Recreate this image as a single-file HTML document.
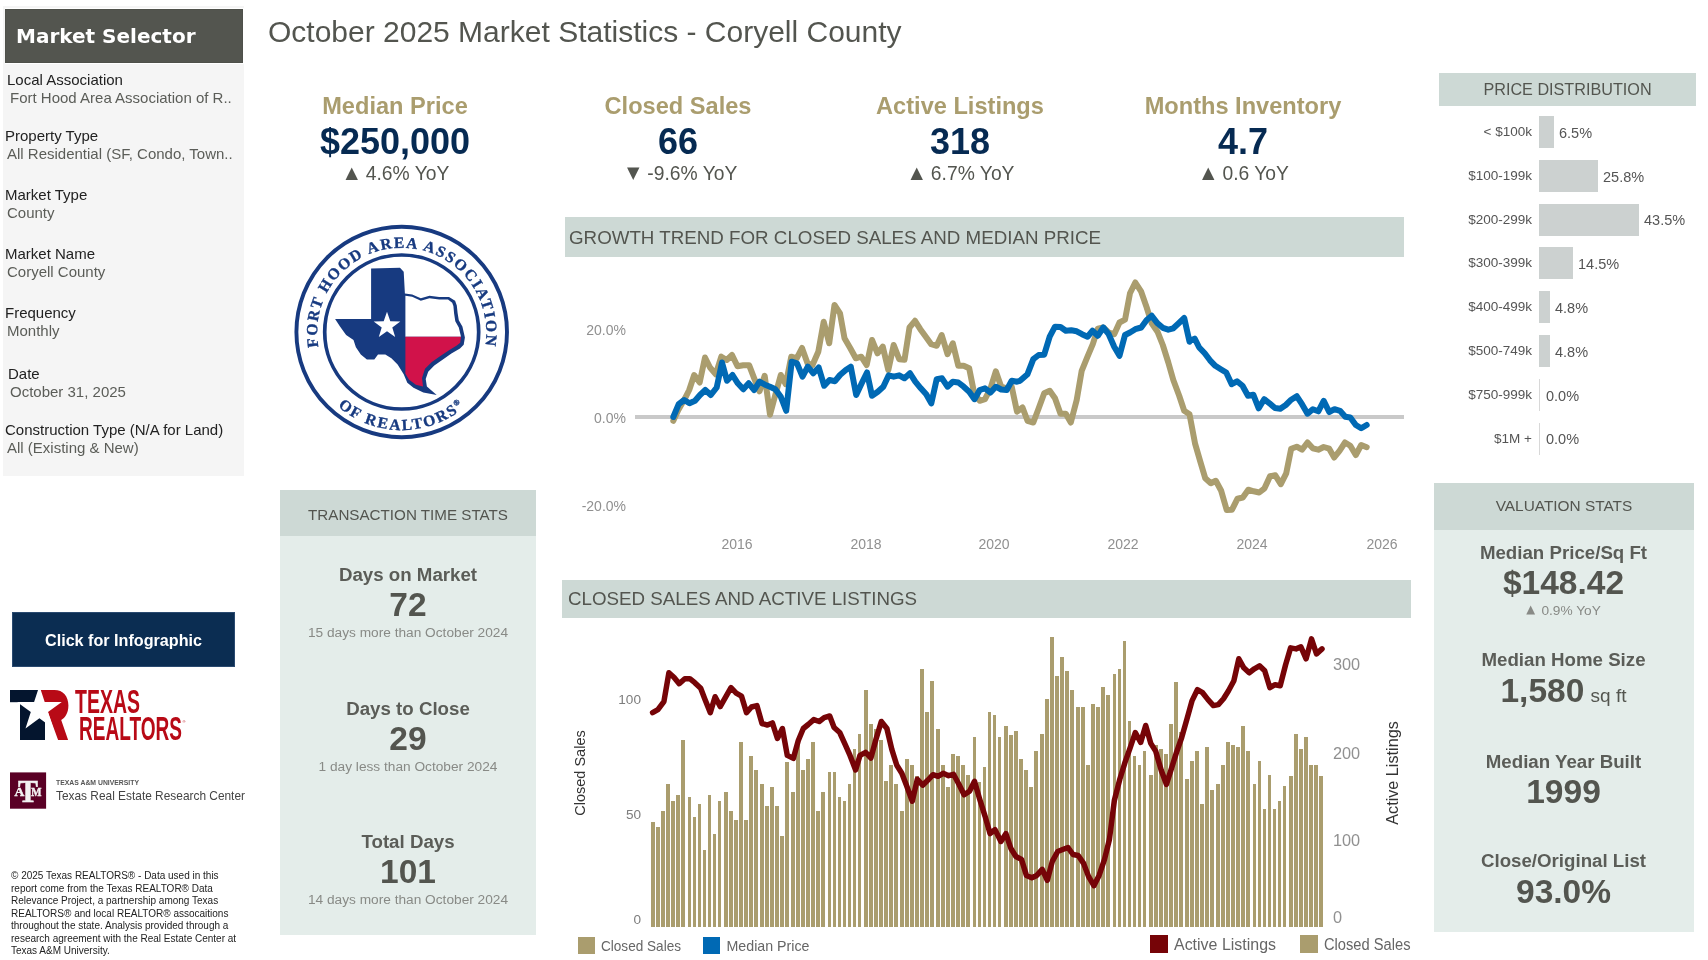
<!DOCTYPE html><html lang="en"><head><meta charset="utf-8"><title>October 2025 Market Statistics - Coryell County</title><style>
*{margin:0;padding:0;box-sizing:border-box}
html,body{width:1708px;height:960px;background:#fff;overflow:hidden}
body{will-change:transform;position:relative;font-family:"Liberation Sans",Arial,sans-serif;color:#53554f}
.a{position:absolute;white-space:nowrap}
.c{position:absolute;white-space:nowrap;text-align:center}
.lab{font-size:15px;color:#222;}
.val{font-size:15px;color:#5b5d58;}
.kt{font-weight:bold;color:#aa9d6e;font-size:23.6px}
.kv{font-weight:bold;color:#062a52;font-size:36px}
.ky{font-size:19.3px;color:#53554f}
.tri{font-family:'DejaVu Sans',sans-serif;font-size:0.84em;position:relative;top:-1.6px;margin-right:2.5px}
.hd{position:absolute;background:#cdd9d5}
.st{font-weight:bold;font-size:18.7px;color:#5b5d58}
.sv{font-weight:bold;font-size:33.5px;color:#53554f}
.ss{font-size:13.7px;color:#888a86}
.pl{position:absolute;font-size:13.5px;color:#555;text-align:right;width:90px}
.pv{position:absolute;font-size:14.5px;color:#555}
.pb{position:absolute;background:#ccd1d0;height:32px}
.ax{font-size:14px;fill:#909090;font-family:"Liberation Sans",Arial,sans-serif}
</style></head><body>
<div class="a" style="left:3px;top:6px;width:241.4px;height:470px;background:#f5f5f5"></div>
<div class="a" style="left:4.8px;top:7.6px;width:239.6px;height:56.7px;background:#fff"></div>
<div class="a" style="left:5px;top:9px;width:238px;height:54px;background:#53554f;border:1px solid #4e504a"></div>
<div class="a" style="left:16px;top:23px;font-family:'DejaVu Sans',sans-serif;font-weight:bold;font-size:20px;color:#fff;line-height:26px">Market Selector</div>
<div class="a lab" style="left:7px;top:71px;line-height:17px">Local Association</div>
<div class="a val" style="left:10px;top:88.5px;line-height:17px">Fort Hood Area Association of R..</div>
<div class="a lab" style="left:5px;top:127px;line-height:17px">Property Type</div>
<div class="a val" style="left:7px;top:144.5px;line-height:17px">All Residential (SF, Condo, Town..</div>
<div class="a lab" style="left:5px;top:186px;line-height:17px">Market Type</div>
<div class="a val" style="left:7px;top:203.5px;line-height:17px">County</div>
<div class="a lab" style="left:5px;top:245px;line-height:17px">Market Name</div>
<div class="a val" style="left:7px;top:262.5px;line-height:17px">Coryell County</div>
<div class="a lab" style="left:5px;top:304px;line-height:17px">Frequency</div>
<div class="a val" style="left:7px;top:321.5px;line-height:17px">Monthly</div>
<div class="a lab" style="left:8px;top:365px;line-height:17px">Date</div>
<div class="a val" style="left:10px;top:382.5px;line-height:17px">October 31, 2025</div>
<div class="a lab" style="left:5px;top:421px;line-height:17px">Construction Type (N/A for Land)</div>
<div class="a val" style="left:7px;top:438.5px;line-height:17px">All (Existing &amp; New)</div>
<div class="a" style="left:268px;top:13px;font-size:30px;line-height:38px;color:#53554f">October 2025 Market Statistics - Coryell County</div>
<div class="c kt" style="left:245px;width:300px;top:92px;line-height:28px">Median Price</div>
<div class="c kv" style="left:245px;width:300px;top:121px;line-height:42px">$250,000</div>
<div class="c ky" style="left:247.4px;width:300px;top:162.8px;line-height:22px"><span class=tri>&#9650;</span> 4.6% YoY</div>
<div class="c kt" style="left:528px;width:300px;top:92px;line-height:28px">Closed Sales</div>
<div class="c kv" style="left:528px;width:300px;top:121px;line-height:42px">66</div>
<div class="c ky" style="left:532.25px;width:300px;top:162.8px;line-height:22px"><span class=tri>&#9660;</span> -9.6% YoY</div>
<div class="c kt" style="left:810px;width:300px;top:92px;line-height:28px">Active Listings</div>
<div class="c kv" style="left:810px;width:300px;top:121px;line-height:42px">318</div>
<div class="c ky" style="left:812.5px;width:300px;top:162.8px;line-height:22px"><span class=tri>&#9650;</span> 6.7% YoY</div>
<div class="c kt" style="left:1093px;width:300px;top:92px;line-height:28px">Months Inventory</div>
<div class="c kv" style="left:1093px;width:300px;top:121px;line-height:42px">4.7</div>
<div class="c ky" style="left:1095.5px;width:300px;top:162.8px;line-height:22px"><span class=tri>&#9650;</span> 0.6 YoY</div>
<svg class="a" style="left:0;top:0" width="1708" height="960" viewBox="0 0 1708 960">
<circle cx="401.7" cy="332" r="105.3" fill="none" stroke="#173a80" stroke-width="3.9"/>
<circle cx="401.7" cy="332" r="77" fill="none" stroke="#173a80" stroke-width="3.7"/>
<polygon points="371.1,268.4 400.0,267.7 403.7,271.8 404.9,293.4 412.2,294.6 420.8,298.3 429.4,295.8 439.2,297.0 449.0,297.0 455.1,300.7 456.8,305.6 457.6,313.0 458.8,320.3 462.4,326.4 464.9,337.4 463.7,344.8 460.0,348.5 451.4,353.4 442.9,359.5 434.3,365.6 428.2,371.7 425.7,379.1 426.9,386.4 436.7,395.0 423.3,392.6 413.5,387.7 407.3,382.8 403.7,374.2 397.6,364.4 391.4,358.3 385.3,354.6 378.0,354.6 374.3,359.5 366.9,359.5 360.8,354.6 355.9,347.2 353.5,339.9 346.1,335.0 340.0,326.4 335.1,319.1 371.1,319.1" fill="#173a80"/>
<polygon points="405.4,295.8 412.2,296.8 420.8,300.7 429.4,298.3 439.2,299.5 448.0,299.5 452.2,302.7 453.4,306.1 454.1,313.4 455.3,321.3 458.8,327.4 461.0,336.7 405.4,336.7" fill="#fff"/>
<polygon points="405.4,336.7 461.0,336.7 460.2,342.8 456.8,345.5 449.0,350.2 440.4,356.1 431.8,361.9 425.0,368.8 422.0,377.9 423.0,386.4 415.9,384.7 409.1,379.8 405.4,373.7" fill="#d1124a"/>
<polygon points="387.0,311.7 390.3,321.2 400.3,321.4 392.3,327.4 395.2,337.0 387.0,331.3 378.8,337.0 381.7,327.4 373.7,321.4 383.7,321.2" fill="#fff"/>
<defs><path id="arcT" d="M 319.0 349.6 A 84.5 84.5 0 1 1 484.4 349.6"/>
<path id="arcB" d="M 309.6 365.5 A 98 98 0 0 0 493.8 365.5"/></defs>
<text font-family="Liberation Serif,serif" font-weight="bold" font-size="15.6" fill="#173a80" letter-spacing="1.65" stroke="#173a80" stroke-width="0.35"><textPath href="#arcT" startOffset="50%" text-anchor="middle">FORT HOOD AREA ASSOCIATION</textPath></text>
<text font-family="Liberation Serif,serif" font-weight="bold" font-size="15.6" fill="#173a80" letter-spacing="2.0" stroke="#173a80" stroke-width="0.35"><textPath href="#arcB" startOffset="50%" text-anchor="middle">OF REALTORS<tspan font-size="8" dy="-6">&#174;</tspan></textPath></text>
<rect x="565" y="217" width="839" height="40" fill="#cdd9d5"/>
<rect x="635" y="415" width="769" height="4" fill="#c9c9c9"/>
<polyline points="673.3,420.8 678.3,410.0 685.0,398.3 689.2,390.0 694.2,375.0 699.7,382.5 705.0,357.5 710.0,367.5 715.8,374.2 721.3,356.7 726.7,360.0 732.0,355.0 737.5,366.3 743.3,365.3 749.2,365.3 754.2,378.3 759.5,391.3 764.7,375.8 770.0,414.7 775.3,395.0 780.8,375.0 785.8,384.2 791.3,356.7 796.7,358.3 802.0,348.0 807.5,363.3 812.5,365.0 818.3,351.7 823.7,321.7 829.2,343.3 834.5,305.0 840.0,313.3 844.5,338.3 850.3,348.3 855.8,358.3 861.2,356.7 866.7,365.0 872.0,340.0 877.5,353.3 882.8,346.7 888.3,370.0 893.7,345.0 899.2,359.2 904.5,359.7 909.5,327.5 915.0,320.8 920.3,329.2 925.8,336.7 931.2,344.2 936.7,345.8 941.7,335.0 947.5,354.2 952.8,343.3 958.3,365.8 963.7,365.8 969.2,368.3 974.2,393.3 979.7,400.8 985.0,399.2 990.5,388.3 995.8,371.3 1001.2,386.7 1006.7,388.3 1011.7,386.7 1017.0,411.7 1022.5,407.5 1027.5,420.8 1033.3,422.5 1038.7,408.3 1044.2,393.3 1049.7,390.8 1055.0,398.3 1060.5,413.7 1065.8,413.7 1070.8,422.5 1076.7,400.0 1081.7,370.8 1087.5,356.7 1092.8,344.2 1097.8,328.7 1103.3,327.5 1108.7,332.5 1114.2,334.2 1119.5,322.5 1125.0,319.7 1130.0,293.3 1135.3,282.5 1141.2,291.7 1146.7,307.5 1151.7,323.3 1157.5,331.7 1162.8,345.0 1168.3,362.5 1173.3,380.0 1179.2,395.8 1184.2,410.8 1189.5,414.2 1195.0,443.3 1200.3,461.7 1205.3,478.3 1210.8,483.3 1215.8,480.8 1221.2,490.8 1226.7,510.0 1232.0,509.7 1237.5,498.7 1242.8,497.5 1248.3,489.7 1253.7,491.3 1259.2,492.5 1264.5,488.3 1270.0,476.3 1275.3,475.3 1280.8,484.2 1286.2,473.3 1291.2,448.7 1296.7,446.7 1302.0,449.7 1307.5,442.5 1312.8,448.3 1318.3,449.7 1323.7,447.0 1329.2,448.7 1334.2,457.5 1339.5,450.8 1345.0,442.5 1350.3,445.8 1355.8,455.0 1361.2,445.0 1366.7,447.2" fill="none" stroke="#aa9d6e" stroke-width="6" stroke-linejoin="round" stroke-linecap="round"/>
<polyline points="673.3,417.0 678.7,404.2 684.2,400.0 689.5,403.3 695.0,400.8 700.0,395.0 705.3,390.0 710.8,395.0 716.7,387.5 722.0,362.5 727.0,380.8 732.5,375.0 737.8,383.3 743.3,389.2 748.7,383.3 754.2,390.0 759.5,381.7 765.0,384.7 770.0,386.7 775.3,389.2 780.8,396.7 786.2,410.8 791.7,361.7 797.0,363.3 802.5,376.7 807.8,366.7 813.3,373.3 818.7,367.5 824.2,385.8 829.5,380.0 835.0,381.2 840.0,375.0 845.8,370.0 850.8,366.7 856.2,395.0 861.7,383.3 867.0,372.5 872.0,395.8 877.8,391.7 883.3,386.7 888.7,375.3 893.7,376.7 899.2,375.3 904.5,378.3 910.0,373.3 915.3,381.7 920.8,388.3 926.2,394.2 931.3,403.3 936.7,379.2 942.0,378.3 947.5,386.7 952.8,381.7 958.3,382.5 963.7,386.7 969.2,391.7 974.5,399.2 979.7,390.0 985.0,388.3 990.5,392.5 995.8,386.7 1001.2,389.5 1006.7,390.0 1011.7,380.8 1017.0,381.7 1020.0,380.8 1027.5,374.2 1033.3,359.2 1038.7,355.0 1044.2,354.7 1049.7,336.7 1055.0,326.7 1060.5,327.0 1065.8,330.8 1071.2,330.3 1076.7,331.3 1082.0,334.2 1087.5,336.7 1092.5,330.8 1097.8,335.8 1103.3,327.5 1108.7,334.2 1114.2,346.7 1119.5,355.8 1125.0,335.0 1130.0,332.5 1135.3,329.2 1141.2,327.5 1146.7,320.0 1151.7,315.8 1157.5,323.3 1162.8,327.8 1168.3,329.7 1173.3,328.3 1178.7,323.3 1184.2,318.0 1189.5,341.7 1190.0,340.8 1194.7,338.7 1199.2,347.5 1204.7,353.3 1210.0,360.3 1215.3,365.8 1220.8,369.2 1226.2,372.5 1231.7,384.2 1237.0,381.3 1242.5,385.8 1248.0,395.8 1253.3,394.7 1258.7,408.3 1264.2,399.2 1269.5,403.3 1275.0,408.0 1280.3,408.7 1285.8,405.0 1291.2,399.7 1296.7,396.2 1302.0,404.2 1307.5,413.7 1312.8,409.2 1318.3,411.3 1323.7,400.8 1329.2,412.0 1334.5,409.2 1340.0,410.8 1345.3,416.7 1350.3,417.5 1355.8,425.0 1361.2,428.3 1366.7,425.0" fill="none" stroke="#0069b4" stroke-width="6" stroke-linejoin="round" stroke-linecap="round"/>
<text class="ax" x="626" y="335" text-anchor="end">20.0%</text>
<text class="ax" x="626" y="423" text-anchor="end">0.0%</text>
<text class="ax" x="626" y="511" text-anchor="end">-20.0%</text>
<text class="ax" x="737" y="549" text-anchor="middle">2016</text>
<text class="ax" x="866" y="549" text-anchor="middle">2018</text>
<text class="ax" x="994" y="549" text-anchor="middle">2020</text>
<text class="ax" x="1123" y="549" text-anchor="middle">2022</text>
<text class="ax" x="1252" y="549" text-anchor="middle">2024</text>
<text class="ax" x="1382" y="549" text-anchor="middle">2026</text>
<rect x="562" y="580" width="849" height="38" fill="#cdd9d5"/>
<g fill="#aa9d6e" shape-rendering="crispEdges">
<rect x="651" y="822" width="4" height="105"/>
<rect x="656" y="827" width="4" height="100"/>
<rect x="661" y="811" width="4" height="116"/>
<rect x="666" y="784" width="4" height="143"/>
<rect x="671" y="801" width="4" height="126"/>
<rect x="676" y="795" width="4" height="132"/>
<rect x="681" y="740" width="4" height="187"/>
<rect x="688" y="797" width="3" height="130"/>
<rect x="693" y="817" width="3" height="110"/>
<rect x="698" y="804" width="3" height="123"/>
<rect x="703" y="850" width="3" height="77"/>
<rect x="708" y="795" width="3" height="132"/>
<rect x="713" y="834" width="3" height="93"/>
<rect x="718" y="801" width="3" height="126"/>
<rect x="724" y="792" width="4" height="135"/>
<rect x="729" y="811" width="4" height="116"/>
<rect x="734" y="820" width="4" height="107"/>
<rect x="739" y="742" width="4" height="185"/>
<rect x="744" y="820" width="4" height="107"/>
<rect x="749" y="756" width="4" height="171"/>
<rect x="754" y="770" width="4" height="157"/>
<rect x="760" y="784" width="4" height="143"/>
<rect x="765" y="806" width="4" height="121"/>
<rect x="770" y="787" width="4" height="140"/>
<rect x="775" y="806" width="4" height="121"/>
<rect x="780" y="836" width="4" height="91"/>
<rect x="785" y="762" width="4" height="165"/>
<rect x="791" y="792" width="4" height="135"/>
<rect x="796" y="739" width="4" height="188"/>
<rect x="801" y="770" width="4" height="157"/>
<rect x="806" y="759" width="4" height="168"/>
<rect x="811" y="742" width="4" height="185"/>
<rect x="816" y="811" width="4" height="116"/>
<rect x="821" y="792" width="4" height="135"/>
<rect x="828" y="772" width="3" height="155"/>
<rect x="833" y="772" width="3" height="155"/>
<rect x="838" y="797" width="3" height="130"/>
<rect x="843" y="801" width="3" height="126"/>
<rect x="848" y="784" width="3" height="143"/>
<rect x="853" y="749" width="3" height="178"/>
<rect x="858" y="734" width="3" height="193"/>
<rect x="864" y="690" width="4" height="237"/>
<rect x="869" y="724" width="4" height="203"/>
<rect x="874" y="729" width="4" height="198"/>
<rect x="879" y="740" width="4" height="187"/>
<rect x="884" y="781" width="4" height="146"/>
<rect x="889" y="765" width="4" height="162"/>
<rect x="894" y="784" width="4" height="143"/>
<rect x="900" y="811" width="4" height="116"/>
<rect x="905" y="759" width="4" height="168"/>
<rect x="910" y="765" width="4" height="162"/>
<rect x="915" y="776" width="4" height="151"/>
<rect x="920" y="669" width="4" height="258"/>
<rect x="925" y="712" width="4" height="215"/>
<rect x="930" y="681" width="4" height="246"/>
<rect x="936" y="729" width="4" height="198"/>
<rect x="941" y="765" width="4" height="162"/>
<rect x="946" y="787" width="4" height="140"/>
<rect x="951" y="754" width="4" height="173"/>
<rect x="956" y="756" width="4" height="171"/>
<rect x="961" y="765" width="4" height="162"/>
<rect x="966" y="775" width="4" height="152"/>
<rect x="973" y="737" width="3" height="190"/>
<rect x="978" y="782" width="3" height="145"/>
<rect x="983" y="767" width="3" height="160"/>
<rect x="988" y="712" width="3" height="215"/>
<rect x="993" y="715" width="3" height="212"/>
<rect x="998" y="737" width="3" height="190"/>
<rect x="1004" y="726" width="4" height="201"/>
<rect x="1009" y="735" width="4" height="192"/>
<rect x="1014" y="731" width="4" height="196"/>
<rect x="1019" y="759" width="4" height="168"/>
<rect x="1024" y="770" width="4" height="157"/>
<rect x="1029" y="787" width="4" height="140"/>
<rect x="1034" y="751" width="4" height="176"/>
<rect x="1040" y="734" width="4" height="193"/>
<rect x="1045" y="699" width="4" height="228"/>
<rect x="1050" y="637" width="4" height="290"/>
<rect x="1055" y="676" width="4" height="251"/>
<rect x="1060" y="657" width="4" height="270"/>
<rect x="1065" y="671" width="4" height="256"/>
<rect x="1070" y="690" width="4" height="237"/>
<rect x="1076" y="707" width="4" height="220"/>
<rect x="1081" y="707" width="4" height="220"/>
<rect x="1086" y="765" width="4" height="162"/>
<rect x="1091" y="704" width="4" height="223"/>
<rect x="1096" y="707" width="4" height="220"/>
<rect x="1101" y="687" width="4" height="240"/>
<rect x="1106" y="695" width="4" height="232"/>
<rect x="1113" y="674" width="3" height="253"/>
<rect x="1118" y="669" width="3" height="258"/>
<rect x="1123" y="641" width="3" height="286"/>
<rect x="1128" y="721" width="3" height="206"/>
<rect x="1133" y="756" width="3" height="171"/>
<rect x="1138" y="765" width="3" height="162"/>
<rect x="1143" y="751" width="3" height="176"/>
<rect x="1149" y="775" width="4" height="152"/>
<rect x="1154" y="745" width="4" height="182"/>
<rect x="1159" y="749" width="4" height="178"/>
<rect x="1164" y="754" width="4" height="173"/>
<rect x="1169" y="724" width="4" height="203"/>
<rect x="1174" y="682" width="4" height="245"/>
<rect x="1179" y="732" width="4" height="195"/>
<rect x="1185" y="779" width="4" height="148"/>
<rect x="1190" y="761" width="4" height="166"/>
<rect x="1195" y="751" width="4" height="176"/>
<rect x="1200" y="804" width="4" height="123"/>
<rect x="1205" y="747" width="4" height="180"/>
<rect x="1210" y="790" width="4" height="137"/>
<rect x="1216" y="784" width="4" height="143"/>
<rect x="1221" y="765" width="4" height="162"/>
<rect x="1226" y="742" width="4" height="185"/>
<rect x="1231" y="745" width="4" height="182"/>
<rect x="1236" y="747" width="4" height="180"/>
<rect x="1241" y="726" width="4" height="201"/>
<rect x="1246" y="751" width="4" height="176"/>
<rect x="1253" y="784" width="3" height="143"/>
<rect x="1258" y="761" width="3" height="166"/>
<rect x="1263" y="809" width="3" height="118"/>
<rect x="1268" y="775" width="3" height="152"/>
<rect x="1273" y="809" width="3" height="118"/>
<rect x="1278" y="801" width="3" height="126"/>
<rect x="1283" y="786" width="3" height="141"/>
<rect x="1289" y="776" width="4" height="151"/>
<rect x="1294" y="734" width="4" height="193"/>
<rect x="1299" y="749" width="4" height="178"/>
<rect x="1304" y="737" width="4" height="190"/>
<rect x="1309" y="765" width="4" height="162"/>
<rect x="1314" y="765" width="4" height="162"/>
<rect x="1319" y="776" width="4" height="151"/>
</g>
<polyline points="652.6,712.6 657.9,709.6 663.9,701.6 668.9,672.8 673.9,677.2 679.2,683.7 684.8,678.7 689.8,678.7 694.8,682.7 700.7,688.3 704.7,698.7 710.3,712.6 715.1,696.7 720.2,706.6 725.6,697.1 731.0,687.7 736.2,693.1 741.5,696.1 746.5,712.6 751.5,707.0 756.9,705.6 762.0,723.5 767.4,725.1 772.4,722.9 777.4,738.5 782.4,728.5 787.3,755.4 793.3,758.4 798.3,740.5 803.3,728.5 808.2,724.5 813.8,719.6 819.2,721.5 824.2,717.6 829.7,716.0 834.1,727.5 839.7,732.5 845.1,744.4 850.0,755.4 855.6,769.9 860.0,755.4 865.6,752.4 870.9,758.0 875.9,739.5 881.3,721.5 886.9,728.5 891.8,749.4 896.8,765.3 901.8,773.3 906.8,786.2 912.3,801.2 917.3,779.3 922.7,785.2 927.7,780.3 933.0,774.7 938.0,776.3 943.2,773.3 948.6,775.7 953.5,774.3 958.9,784.3 964.1,794.8 969.5,791.2 974.5,781.3 979.4,798.2 985.0,816.1 990.0,833.6 995.0,829.6 1000.9,841.5 1005.9,833.6 1010.9,848.5 1015.9,856.5 1021.5,859.4 1026.4,875.4 1031.8,877.8 1036.8,875.4 1042.2,869.4 1047.3,880.3 1052.3,861.4 1057.7,851.5 1062.7,849.5 1068.0,847.5 1073.0,854.5 1078.2,855.5 1083.6,863.4 1088.5,876.4 1093.9,885.7 1099.1,875.4 1104.5,859.4 1109.4,839.5 1114.4,800.2 1119.8,779.3 1125.0,762.4 1130.3,747.4 1135.3,732.5 1140.7,742.4 1145.7,725.5 1150.8,743.4 1155.8,751.4 1161.2,770.3 1166.4,784.3 1171.5,768.3 1176.5,752.4 1181.7,737.5 1187.1,718.6 1192.1,700.6 1197.4,689.7 1202.6,692.7 1208.0,699.6 1213.4,705.6 1218.3,704.6 1223.5,698.7 1228.5,690.7 1233.9,680.7 1238.8,658.8 1243.8,667.8 1249.2,672.8 1254.4,668.8 1259.5,665.8 1264.7,670.8 1269.9,687.7 1275.1,684.7 1280.2,685.7 1285.6,664.8 1290.6,647.9 1296.0,648.9 1300.9,646.9 1306.1,658.8 1311.5,638.9 1316.5,653.9 1322.0,648.9" fill="none" stroke="#760407" stroke-width="5.5" stroke-linejoin="round" stroke-linecap="round"/>
<text class="ax" x="641" y="704" text-anchor="end" style="font-size:13.6px;fill:#7d7d7d">100</text>
<text class="ax" x="641" y="819" text-anchor="end" style="font-size:13.6px;fill:#7d7d7d">50</text>
<text class="ax" x="641" y="924" text-anchor="end" style="font-size:13.6px;fill:#7d7d7d">0</text>
<text class="ax" x="1333" y="669.5" style="font-size:16.3px">300</text>
<text class="ax" x="1333" y="758.5" style="font-size:16.3px">200</text>
<text class="ax" x="1333" y="845.5" style="font-size:16.3px">100</text>
<text class="ax" x="1333" y="922.5" style="font-size:16.3px">0</text>
<text x="585" y="773" transform="rotate(-90 585 773)" text-anchor="middle" font-size="14.5" fill="#333" font-family="Liberation Sans,Arial,sans-serif">Closed Sales</text>
<text x="1398" y="773" transform="rotate(-90 1398 773)" text-anchor="middle" font-size="16.2" fill="#333" font-family="Liberation Sans,Arial,sans-serif">Active Listings</text>
<rect x="578" y="937" width="17" height="17" fill="#aa9d6e"/><text x="601" y="951" font-size="14.5" textLength="80" font-family="Liberation Sans,Arial,sans-serif" fill="#666" lengthAdjust="spacingAndGlyphs">Closed Sales</text>
<rect x="703" y="937" width="17" height="17" fill="#0069b4"/><text x="726.5" y="951" font-size="14.5" textLength="83" font-family="Liberation Sans,Arial,sans-serif" fill="#666" lengthAdjust="spacingAndGlyphs">Median Price</text>
<rect x="1150" y="935" width="18" height="18" fill="#760407"/><text x="1174" y="950" font-size="15.8" textLength="102" font-family="Liberation Sans,Arial,sans-serif" fill="#666" lengthAdjust="spacingAndGlyphs">Active Listings</text>
<rect x="1300" y="935" width="18" height="18" fill="#aa9d6e"/><text x="1324" y="950" font-size="15.8" textLength="86.5" font-family="Liberation Sans,Arial,sans-serif" fill="#666" lengthAdjust="spacingAndGlyphs">Closed Sales</text>
</svg>
<div class="a" style="left:569px;top:227px;font-size:18.75px;line-height:22px;color:#53554f">GROWTH TREND FOR CLOSED SALES AND MEDIAN PRICE</div>
<div class="a" style="left:568px;top:587.5px;font-size:18.75px;line-height:22px;color:#53554f">CLOSED SALES AND ACTIVE LISTINGS</div>
<div class="a" style="left:280px;top:490px;width:256px;height:445px;background:#e4edea"></div>
<div class="hd" style="left:280px;top:490px;width:256px;height:46px"></div>
<div class="c" style="left:280px;width:256px;top:506px;font-size:15.2px;line-height:18px;color:#53554f">TRANSACTION TIME STATS</div>
<div class="c st" style="left:280px;width:256px;top:564px;line-height:22px">Days on Market</div>
<div class="c sv" style="left:280px;width:256px;top:586px;line-height:38px">72</div>
<div class="c ss" style="left:280px;width:256px;top:625px;line-height:16px">15 days more than October 2024</div>
<div class="c st" style="left:280px;width:256px;top:698px;line-height:22px">Days to Close</div>
<div class="c sv" style="left:280px;width:256px;top:720px;line-height:38px">29</div>
<div class="c ss" style="left:280px;width:256px;top:759px;line-height:16px">1 day less than October 2024</div>
<div class="c st" style="left:280px;width:256px;top:831px;line-height:22px">Total Days</div>
<div class="c sv" style="left:280px;width:256px;top:853px;line-height:38px">101</div>
<div class="c ss" style="left:280px;width:256px;top:892px;line-height:16px">14 days more than October 2024</div>
<div class="hd" style="left:1439px;top:73px;width:257px;height:33px"></div>
<div class="c" style="left:1439px;width:257px;top:80px;font-size:16.2px;line-height:19px;color:#53554f">PRICE DISTRIBUTION</div>
<div class="pl" style="left:1442px;top:124.0px;line-height:16px">&lt; $100k</div>
<div class="pb" style="left:1539px;top:116.0px;width:15px"></div>
<div class="pv" style="left:1559px;top:124.8px;line-height:17px">6.5%</div>
<div class="pl" style="left:1442px;top:167.8px;line-height:16px">$100-199k</div>
<div class="pb" style="left:1539px;top:159.8px;width:59px"></div>
<div class="pv" style="left:1603px;top:168.6px;line-height:17px">25.8%</div>
<div class="pl" style="left:1442px;top:211.6px;line-height:16px">$200-299k</div>
<div class="pb" style="left:1539px;top:203.6px;width:100px"></div>
<div class="pv" style="left:1644px;top:212.4px;line-height:17px">43.5%</div>
<div class="pl" style="left:1442px;top:255.4px;line-height:16px">$300-399k</div>
<div class="pb" style="left:1539px;top:247.4px;width:34px"></div>
<div class="pv" style="left:1578px;top:256.2px;line-height:17px">14.5%</div>
<div class="pl" style="left:1442px;top:299.2px;line-height:16px">$400-499k</div>
<div class="pb" style="left:1539px;top:291.2px;width:11px"></div>
<div class="pv" style="left:1555px;top:300.0px;line-height:17px">4.8%</div>
<div class="pl" style="left:1442px;top:343.0px;line-height:16px">$500-749k</div>
<div class="pb" style="left:1539px;top:335.0px;width:11px"></div>
<div class="pv" style="left:1555px;top:343.8px;line-height:17px">4.8%</div>
<div class="pl" style="left:1442px;top:386.8px;line-height:16px">$750-999k</div>
<div class="a" style="left:1539px;top:378.8px;width:1px;height:32px;background:#d8d8d8"></div>
<div class="pv" style="left:1546px;top:387.6px;line-height:17px">0.0%</div>
<div class="pl" style="left:1442px;top:430.6px;line-height:16px">$1M +</div>
<div class="a" style="left:1539px;top:422.6px;width:1px;height:32px;background:#d8d8d8"></div>
<div class="pv" style="left:1546px;top:431.4px;line-height:17px">0.0%</div>
<div class="a" style="left:1434px;top:483px;width:260px;height:449px;background:#e4edea"></div>
<div class="hd" style="left:1434px;top:483px;width:260px;height:47px"></div>
<div class="c" style="left:1434px;width:260px;top:497px;font-size:15.4px;line-height:18px;color:#53554f">VALUATION STATS</div>
<div class="c st" style="left:1433.5px;width:260px;top:542px;line-height:22px">Median Price/Sq Ft</div>
<div class="c sv" style="left:1433.5px;width:260px;top:564px;line-height:38px">$148.42</div>
<div class="c ss" style="left:1433.5px;width:260px;top:603px;line-height:16px"><span class=tri>&#9650;</span> 0.9% YoY</div>
<div class="c st" style="left:1433.5px;width:260px;top:649px;line-height:22px">Median Home Size</div>
<div class="c sv" style="left:1433.5px;width:260px;top:672px;line-height:38px">1,580 <span style="font-weight:normal;font-size:19px;margin-left:-3px">sq ft</span></div>
<div class="c st" style="left:1433.5px;width:260px;top:751px;line-height:22px">Median Year Built</div>
<div class="c sv" style="left:1433.5px;width:260px;top:773px;line-height:38px">1999</div>
<div class="c st" style="left:1433.5px;width:260px;top:850px;line-height:22px">Close/Original List</div>
<div class="c sv" style="left:1433.5px;width:260px;top:873px;line-height:38px">93.0%</div>
<div class="c" style="left:12px;top:612.3px;width:223px;height:55px;background:#0b2d52;border:1px solid #2a4a70;color:#fff;font-weight:bold;font-size:16.15px;line-height:55.5px">Click for Infographic</div>
<svg class="a" style="left:0;top:680px" width="260" height="140" viewBox="0 680 260 140">
<rect x="10" y="690" width="29" height="12.2" fill="#04152e"/>
<rect x="20" y="702" width="25" height="38" fill="#04152e"/>
<path d="M40 690 L54.4 690 C63.1 690 68.4 696.2 68.4 705.6 C68.4 713.1 65 718.1 61.2 720 L68.1 740 L58.1 740 L47.9 712.1 L42.5 712.1 Z" fill="#b80a16"/>
<polygon points="39.4,685.7 44.7,702.0 61.8,702.0 48.0,712.1 53.3,728.4 39.4,718.3 25.5,728.4 30.8,712.1 17.0,702.0 34.1,702.0" fill="#fff"/>
<rect x="0" y="680" width="80" height="10" fill="#fff"/>
<text x="75" y="712.8" font-family="Liberation Sans,Arial,sans-serif" font-weight="bold" font-size="32.5" fill="#b80a16" textLength="65" lengthAdjust="spacingAndGlyphs">TEXAS</text>
<text x="79" y="739.8" font-family="Liberation Sans,Arial,sans-serif" font-weight="bold" font-size="32.5" fill="#b80a16" textLength="103" lengthAdjust="spacingAndGlyphs">REALTORS</text>
<text x="182.5" y="722.5" font-family="Liberation Sans,Arial,sans-serif" font-size="4" fill="#b80a16">&#174;</text>
<rect x="10" y="772.4" width="36.1" height="36.3" fill="#5a0025"/>
<text x="14.6" y="795.9" font-family="Liberation Serif,serif" font-weight="bold" fill="#f2f2f2" stroke="#f2f2f2" stroke-width="0.5" font-size="13.5" textLength="9.8" lengthAdjust="spacingAndGlyphs">A</text>
<text x="31.3" y="795.9" font-family="Liberation Serif,serif" font-weight="bold" fill="#f2f2f2" stroke="#f2f2f2" stroke-width="0.5" font-size="13.5" textLength="10.2" lengthAdjust="spacingAndGlyphs">M</text>
<text x="18" y="801.5" font-family="Liberation Serif,serif" font-weight="bold" fill="#f2f2f2" stroke="#f2f2f2" stroke-width="0.5" font-size="32.5" textLength="20" lengthAdjust="spacingAndGlyphs">T</text>
<text x="56" y="785" font-family="Liberation Sans,Arial,sans-serif" font-weight="bold" font-size="6.4" fill="#555" textLength="83" lengthAdjust="spacingAndGlyphs">TEXAS A&amp;M UNIVERSITY</text>
<text x="56" y="800" font-family="Liberation Sans,Arial,sans-serif" font-size="12.6" fill="#444" textLength="189" lengthAdjust="spacingAndGlyphs">Texas Real Estate Research Center</text>
</svg>
<div class="a" style="left:11px;top:870.2px;width:240px;white-space:normal;font-size:10px;line-height:12.5px;color:#222">&#169; 2025 Texas REALTORS&#174; - Data used in this<br>report come from the Texas REALTOR&#174; Data<br>Relevance Project, a partnership among Texas<br>REALTORS&#174; and local REALTOR&#174; assocaitions<br>throughout the state. Analysis provided through a<br>research agreement with the Real Estate Center at<br>Texas A&amp;M University.</div>
</body></html>
